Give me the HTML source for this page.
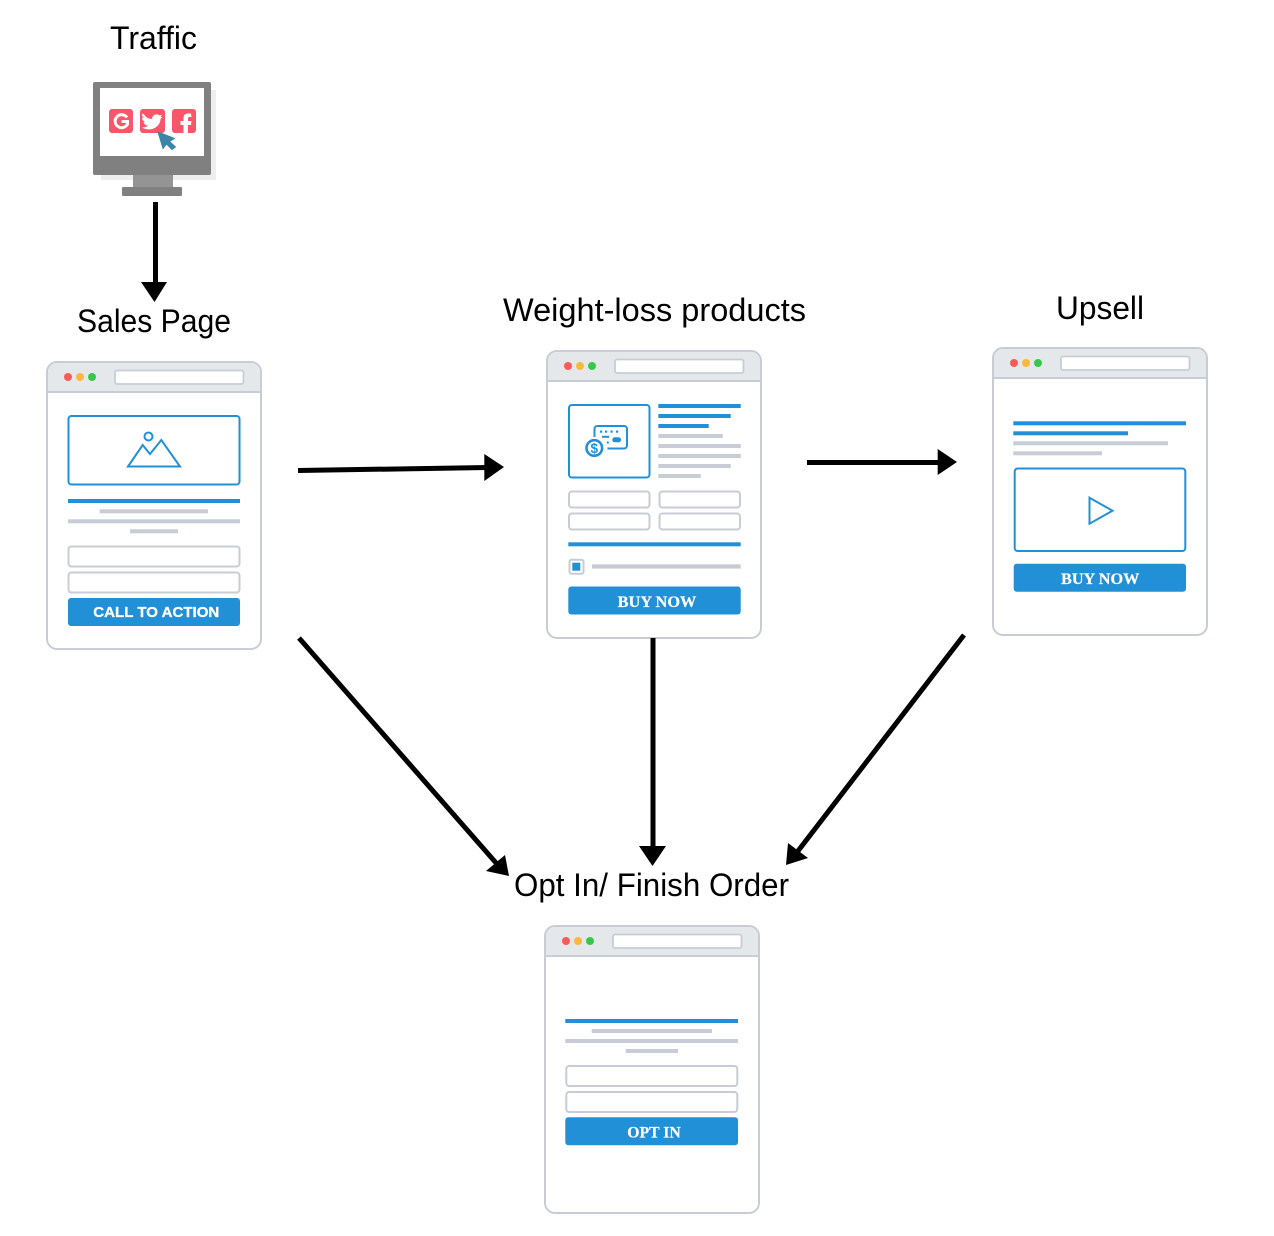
<!DOCTYPE html>
<html>
<head>
<meta charset="utf-8">
<style>
html,body{margin:0;padding:0;background:#fff;}
svg{display:block;}
.lbl{font-family:"Liberation Sans",sans-serif;font-size:32px;fill:#000;}
.btnS{font-family:"Liberation Sans",sans-serif;font-weight:bold;font-size:15px;fill:#fff;stroke:#fff;stroke-width:.3;}
.btnT{font-family:"Liberation Serif",serif;font-weight:bold;font-size:16px;fill:#fff;stroke:#fff;stroke-width:.2;}
.o{fill:#fff;stroke:#c8ccd6;stroke-width:2;}
.h{fill:#e5e8eb;}
.hl{stroke:#c8ccd6;stroke-width:2;}
.u{fill:#fff;stroke:#c8ccd6;stroke-width:1.8;}
.i{fill:#fff;stroke:#c8ccd6;stroke-width:2;}
.b{fill:#2190d6;}
.g{fill:#c8ccd6;}
.bx{fill:#fff;stroke:#2190d6;stroke-width:2;}
.ln{fill:none;stroke:#2190d6;stroke-width:2;}
</style>
</head>
<body>
<svg width="1274" height="1236" viewBox="0 0 1274 1236" xmlns="http://www.w3.org/2000/svg">
<defs>
<g id="win">
  <rect class="o" x="1" y="1" width="214" height="287" rx="10"/>
  <path class="h" d="M2 30.500V11a9 9 0 0 1 9-9H205a9 9 0 0 1 9 9V30.500Z"/>
  <line class="hl" x1="1" y1="31" x2="215" y2="31"/>
  <circle cx="22" cy="16" r="4" fill="#fb5b57"/>
  <circle cx="34" cy="16" r="4" fill="#fdb73f"/>
  <circle cx="46" cy="16" r="4" fill="#36c84a"/>
  <rect class="u" x="69" y="9.500" width="128.500" height="13.500" rx="2"/>
</g>
</defs>

<!-- Labels -->
<text class="lbl" x="110" y="49" textLength="87" lengthAdjust="spacingAndGlyphs">Traffic</text>
<text class="lbl" x="77" y="332" textLength="154" lengthAdjust="spacingAndGlyphs">Sales Page</text>
<text class="lbl" x="503" y="321" textLength="303" lengthAdjust="spacingAndGlyphs">Weight-loss products</text>
<text class="lbl" x="1056" y="319" textLength="88" lengthAdjust="spacingAndGlyphs">Upsell</text>
<text class="lbl" x="514" y="896" textLength="275" lengthAdjust="spacingAndGlyphs">Opt In/ Finish Order</text>

<!-- Monitor -->
<rect x="101" y="90" width="115" height="90" fill="#eeeeee"/>
<rect x="93" y="82" width="118" height="93" rx="2" fill="#808080"/>
<rect x="100" y="88" width="104" height="68" fill="#fff"/>
<rect x="133" y="175" width="40" height="13" fill="#949494"/>
<rect x="122" y="187" width="60" height="9" rx="1" fill="#808080"/>
<rect x="109" y="109" width="24" height="24" rx="3" fill="#f9566a"/>
<rect x="140" y="109" width="25" height="24" rx="3" fill="#f9566a"/>
<rect x="172" y="109" width="24" height="24" rx="3" fill="#f9566a"/>
<path d="M127 117.500A6.500 6.500 0 1 0 127.500 124V121.500H121.500" fill="none" stroke="#fff" stroke-width="3"/>
<path d="M144 114.500c2 3 5 4.500 8 4.500c0-4 4.500-6 7.500-3.500l2.500-.8l-1.500 2.500l2-.3l-2 2c0 7-7 11-12.500 10.500c-2.500-.2-4.500-.8-6-2c2.500.2 4.500-.5 6-1.800c-2.500-.3-4-1.500-4.500-3.500h2c-2.500-1-3.500-3-3.500-4.500l2 .5c-2-1.500-2.500-4-1.500-4.600z" fill="#fff"/>
<path d="M191 113.500h-3c-3 0-4.500 2-4.500 4.500v3h-3v4h3v8h4.500v-8h3l.5-4h-3.500v-2.500c0-1 .5-1.500 1.500-1.500h2z" fill="#fff"/>
<path d="M158 132L174.500 138.500L169.500 141.500L175.500 147L172 149.500L166.500 144L163 148.500Z" fill="#3d85a8" stroke="#3d85a8" stroke-width="1" stroke-linejoin="round"/>

<!-- Window 1: Sales Page -->
<use href="#win" x="46" y="361"/>
<rect class="bx" x="68.500" y="416" width="171" height="68.500" rx="3"/>
<path class="ln" d="M128 466.500L142.700 445L150 454L161.300 440L180 466.500Z"/>
<circle class="ln" cx="148.500" cy="436.500" r="4"/>
<rect class="b" x="68" y="499" width="172" height="4"/>
<rect class="g" x="99.700" y="509.300" width="108.300" height="4"/>
<rect class="g" x="68" y="519.300" width="172" height="4"/>
<rect class="g" x="130" y="529.300" width="48" height="4"/>
<rect class="i" x="68.500" y="546.500" width="171" height="20" rx="3"/>
<rect class="i" x="68.500" y="572.500" width="171" height="20" rx="3"/>
<rect class="b" x="68" y="598" width="172" height="28" rx="3"/>
<text class="btnS" x="93.300" y="617" textLength="126" lengthAdjust="spacingAndGlyphs">CALL TO ACTION</text>

<!-- Window 2: Weight-loss products -->
<use href="#win" x="546" y="350"/>
<rect class="bx" x="569" y="405" width="80.500" height="72.500" rx="3"/>
<path class="ln" d="M594.500 437V429a3 3 0 0 1 3-3H624a3 3 0 0 1 3 3V445.500a3 3 0 0 1-3 3H607.500"/>
<g fill="#2190d6">
  <rect x="600" y="430.500" width="2.200" height="2.200"/>
  <rect x="605" y="430.500" width="2.200" height="2.200"/>
  <rect x="610.500" y="430.500" width="2.200" height="2.200"/>
  <rect x="616" y="430.500" width="2.200" height="2.200"/>
  <rect x="602" y="435.800" width="7" height="2"/>
  <rect x="606.800" y="441.500" width="2" height="2"/>
  <rect x="612.300" y="437.300" width="8.700" height="5" rx="2.500"/>
</g>
<circle cx="594.300" cy="448" r="7.800" fill="#fff" stroke="#2190d6" stroke-width="2.600"/>
<text x="594.300" y="453" text-anchor="middle" font-family="Liberation Sans,sans-serif" font-weight="bold" font-size="13.500" fill="#2190d6">$</text>
<rect class="b" x="658.300" y="404" width="82.400" height="4"/>
<rect class="b" x="658.300" y="414" width="72.400" height="4"/>
<rect class="b" x="658.300" y="424" width="50.400" height="4"/>
<rect class="g" x="658.300" y="434" width="64.400" height="4"/>
<rect class="g" x="658.300" y="444" width="82.400" height="4"/>
<rect class="g" x="658.300" y="454" width="82.400" height="4"/>
<rect class="g" x="658.300" y="464" width="72.400" height="4"/>
<rect class="g" x="658.300" y="474" width="42.400" height="4"/>
<rect class="i" x="569" y="491.500" width="80.500" height="16" rx="3"/>
<rect class="i" x="659.500" y="491.500" width="80.500" height="16" rx="3"/>
<rect class="i" x="569" y="513.500" width="80.500" height="16" rx="3"/>
<rect class="i" x="659.500" y="513.500" width="80.500" height="16" rx="3"/>
<rect class="b" x="568.300" y="542.300" width="172.400" height="4"/>
<rect class="i" x="569.500" y="559.800" width="14" height="14" rx="2"/>
<rect class="b" x="572.300" y="562.700" width="8" height="8"/>
<rect class="g" x="592" y="564.300" width="148.700" height="4.300"/>
<rect class="b" x="568.300" y="586.500" width="172.400" height="28" rx="3"/>
<text class="btnT" x="617.700" y="607" textLength="78.600" lengthAdjust="spacingAndGlyphs">BUY NOW</text>

<!-- Window 3: Upsell -->
<use href="#win" x="992" y="347"/>
<rect class="b" x="1013.300" y="421.300" width="172.700" height="4"/>
<rect class="b" x="1013.300" y="431.300" width="114.700" height="4"/>
<rect class="g" x="1013.300" y="441.300" width="154.700" height="4"/>
<rect class="g" x="1013.300" y="451.300" width="88.700" height="4"/>
<rect class="bx" x="1014.700" y="468.500" width="170.600" height="82.500" rx="3"/>
<path class="ln" d="M1089.500 497.700L1112.500 510.700L1089.500 523.700Z"/>
<rect class="b" x="1013.700" y="563.700" width="172.300" height="28" rx="3"/>
<text class="btnT" x="1061" y="584" textLength="78.300" lengthAdjust="spacingAndGlyphs">BUY NOW</text>

<!-- Window 4: Opt In -->
<use href="#win" x="544" y="925"/>
<rect class="b" x="565.300" y="1019" width="172.700" height="4"/>
<rect class="g" x="591.700" y="1029" width="120.300" height="4"/>
<rect class="g" x="565.300" y="1039" width="172.700" height="4"/>
<rect class="g" x="625.700" y="1049" width="52.300" height="4"/>
<rect class="i" x="566.300" y="1066" width="171" height="20" rx="3"/>
<rect class="i" x="566.300" y="1092" width="171" height="20" rx="3"/>
<rect class="b" x="565.300" y="1117.300" width="172.700" height="28" rx="3"/>
<text class="btnT" x="627.300" y="1137.300" textLength="53.400" lengthAdjust="spacingAndGlyphs">OPT IN</text>

<!-- Arrows -->
<g stroke="#000" stroke-width="5" fill="none">
  <line x1="155.500" y1="202" x2="155.500" y2="285"/>
  <line x1="298" y1="470.500" x2="488" y2="467.500"/>
  <line x1="807" y1="462.500" x2="940" y2="462.500"/>
  <line x1="653" y1="638" x2="653" y2="850"/>
  <line x1="299" y1="638" x2="497" y2="864"/>
  <line x1="964" y1="635" x2="798" y2="851"/>
</g>
<g fill="#000">
  <polygon points="141,282 167,282 154.500,302"/>
  <polygon points="484.300,454 484.300,481 504,467"/>
  <polygon points="937.700,449 937.700,475 957,462"/>
  <polygon points="639,846 666,846 652.500,866"/>
  <polygon points="486,871 505,855 509,876"/>
  <polygon points="788,843 808,858 786,865"/>
</g>
</svg>
</body>
</html>
